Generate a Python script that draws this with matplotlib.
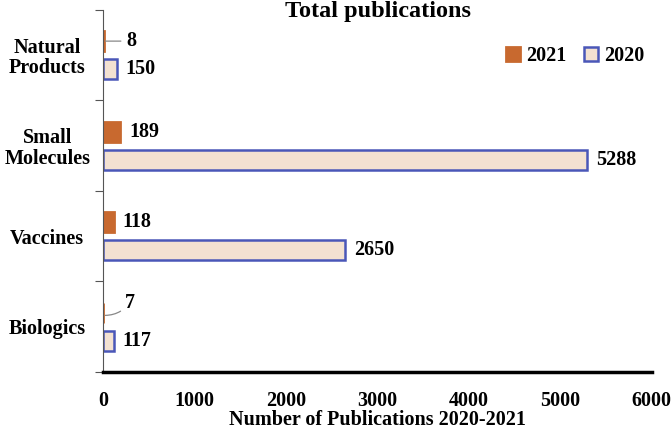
import matplotlib.pyplot as plt
import numpy as np

plt.rcParams['font.family'] = ['Liberation Serif', 'DejaVu Serif']
plt.rcParams['font.weight'] = 'bold'

categories = ['Biologics', 'Vaccines', 'Small\nMolecules', 'Natural\nProducts']
pubs_2021 = [7, 118, 189, 8]
pubs_2020 = [117, 2650, 5288, 150]

ORANGE = '#C8692F'
FILL = '#F3E1D1'
EDGE = '#4A57B8'
FS = 14.5

fig = plt.figure(figsize=(6.72, 4.3), dpi=100)
ax = fig.add_axes([0.153, 0.135, 0.817, 0.842])

y = np.arange(len(categories))
h = 0.22
off = 0.155
ax.barh(y + off, pubs_2021, height=h, color=ORANGE, edgecolor=ORANGE, linewidth=2.0, label='2021')
ax.barh(y - off, pubs_2020, height=h, color=FILL, edgecolor=EDGE, linewidth=1.8, label='2020')

for yi, v in zip(y, pubs_2021):
    if v < 50:
        if v == 7:
            ax.annotate(str(v), xy=(v + 20, yi + off - 0.03), xytext=(v + 230, yi + off + 0.11),
                        fontsize=FS, fontweight='bold', va='center', ha='left',
                        arrowprops=dict(arrowstyle='-', color='#888888', lw=0.9,
                                        shrinkA=1, shrinkB=0,
                                        connectionstyle='arc3,rad=-0.25'))
        else:
            ax.annotate(str(v), xy=(v + 20, yi + off), xytext=(v + 250, yi + off),
                        fontsize=FS, fontweight='bold', va='center', ha='left',
                        arrowprops=dict(arrowstyle='-', color='#888888', lw=0.9,
                                        shrinkA=2, shrinkB=0))
    else:
        ax.text(v + 100, yi + off, str(v), fontsize=FS, fontweight='bold', va='center', ha='left')
for yi, v in zip(y, pubs_2020):
    ax.text(v + 100, yi - off, str(v), fontsize=FS, fontweight='bold', va='center', ha='left')

ax.set_xlim(0, 6000)
ax.set_ylim(-0.5, 3.5)
ax.set_xticks(np.arange(0, 6001, 1000))
ax.tick_params(axis='x', length=0, labelsize=FS, pad=14)
for lab in ax.get_xticklabels():
    lab.set_fontweight('bold')

ax.set_yticks(np.arange(-0.5, 3.6, 1.0))
ax.set_yticklabels([])
ax.set_yticks(y, minor=True)
ax.set_yticklabels(categories, minor=True, fontsize=FS, fontweight='bold', ha='center',
                   multialignment='center', linespacing=1.05)
ax.tick_params(axis='y', which='major', length=6, color='#555555', width=0.8)
ax.tick_params(axis='y', which='minor', length=0, pad=40)

ax.spines['top'].set_visible(False)
ax.spines['right'].set_visible(False)
ax.spines['left'].set_color('#555555')
ax.spines['left'].set_linewidth(0.8)
ax.spines['bottom'].set_color('black')
ax.spines['bottom'].set_linewidth(2.5)

ax.set_xlabel('Number of Publications 2020-2021', fontsize=FS, fontweight='bold', labelpad=-1)
fig.text(378 / 672, 1 - 12 / 430, 'Total publications', fontsize=17.5, fontweight='bold',
         ha='center', va='center')

ax.legend(loc='upper right', bbox_to_anchor=(1.02, 0.95), ncol=2, frameon=False,
          prop={'size': FS, 'weight': 'bold'}, handlelength=0.7, handleheight=0.7,
          columnspacing=0.9, handletextpad=0.3)

fig.savefig('out.png', dpi=100)
